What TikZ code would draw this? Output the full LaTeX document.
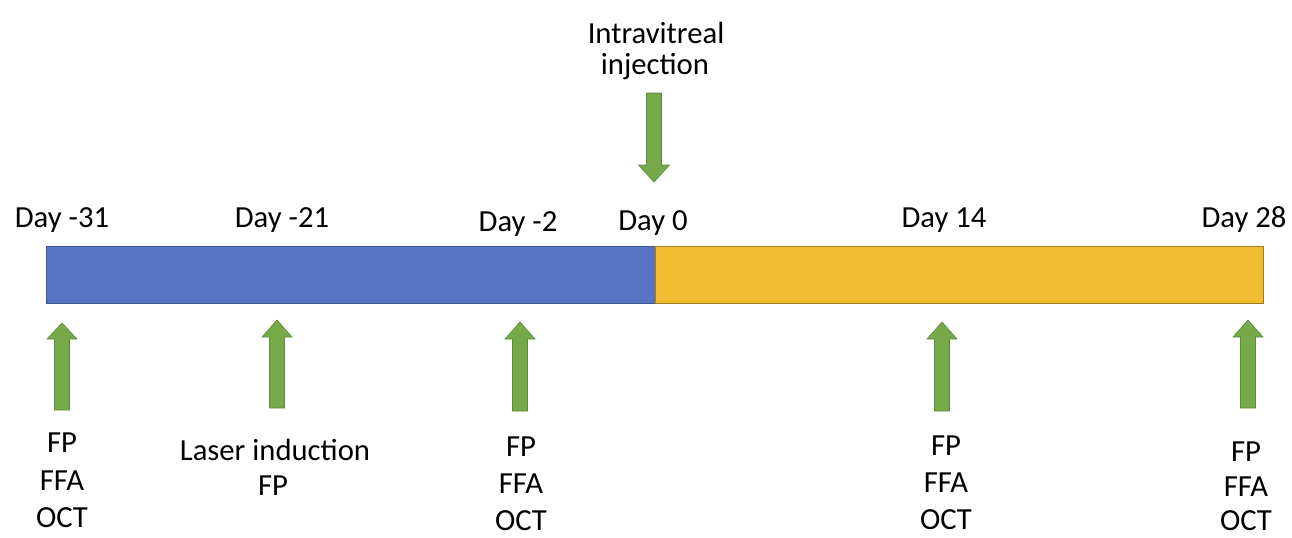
\documentclass[tikz,border=0pt]{standalone}
\usepackage{fontspec}
\setmainfont{Carlito}
\definecolor{barblue}{RGB}{86,116,196}
\definecolor{barblueline}{RGB}{60,85,150}
\definecolor{baryellow}{RGB}{240,190,48}
\definecolor{baryellowline}{RGB}{160,125,30}
\definecolor{arrgreen}{RGB}{118,170,72}
\definecolor{arrgreenline}{RGB}{95,140,55}
\newcommand{\blockup}[4]{% x, tip y, head base y, bottom y
  \draw[arrow] (#1,#2) -- (#1+15,#3) -- (#1+7.5,#3) -- (#1+7.5,#4) -- (#1-7.5,#4) -- (#1-7.5,#3) -- (#1-15,#3) -- cycle;}
\newcommand{\blockdown}[4]{% x, tip y, head base y, top y
  \draw[arrow] (#1,#2) -- (#1+15.5,#3) -- (#1+7.5,#3) -- (#1+7.5,#4) -- (#1-7.5,#4) -- (#1-7.5,#3) -- (#1-15.5,#3) -- cycle;}
\begin{document}
\begin{tikzpicture}[x=0.75pt,y=-0.75pt,
  lbl/.style={font=\fontsize{23}{28}\selectfont, anchor=base, inner sep=0pt},
  arrow/.style={fill=arrgreen, draw=arrgreenline, line width=0.5pt, line join=miter}]
\useasboundingbox (0,0) rectangle (1292,537);
% bar
\draw[fill=barblue, draw=barblueline, line width=0.6pt] (46,246) rectangle (655,303);
\draw[fill=baryellow, draw=baryellowline, line width=0.6pt] (655,246) rectangle (1263,303);
% top labels
\node[lbl] (inj1) at (656,43) {Intravitreal};
\node[lbl] (inj2) at (655,74) {injection};
\node[lbl] (d31) at (62,227) {Day -31};
\node[lbl] (d21) at (282,227) {Day -21};
\node[lbl] (d2) at (518,231) {Day -2};
\node[lbl] (d0) at (653,230) {Day 0};
\node[lbl] (d14) at (944,227) {Day 14};
\node[lbl] (d28) at (1244,227) {Day 28};
% arrows
\blockdown{654}{182}{165}{93}
\blockup{62}{323}{339}{410}
\blockup{277}{320}{337}{408}
\blockup{520}{322}{339}{411}
\blockup{942}{322}{339}{411}
\blockup{1248}{320}{337}{408}
% bottom labels
\node[lbl] (a1) at (62,452) {FP};
\node[lbl] (a2) at (62,490) {FFA};
\node[lbl] (a3) at (62,527) {OCT};
\node[lbl] (l1) at (275,460) {Laser induction};
\node[lbl] (l2) at (273,495) {FP};
\node[lbl] (c1) at (521,456) {FP};
\node[lbl] (c2) at (521,493) {FFA};
\node[lbl] (c3) at (521,530) {OCT};
\node[lbl] (e1) at (946,455) {FP};
\node[lbl] (e2) at (946,492) {FFA};
\node[lbl] (e3) at (946,529) {OCT};
\node[lbl] (f1) at (1246,461) {FP};
\node[lbl] (f2) at (1246,496) {FFA};
\node[lbl] (f3) at (1246,530) {OCT};
\end{tikzpicture}
\end{document}
